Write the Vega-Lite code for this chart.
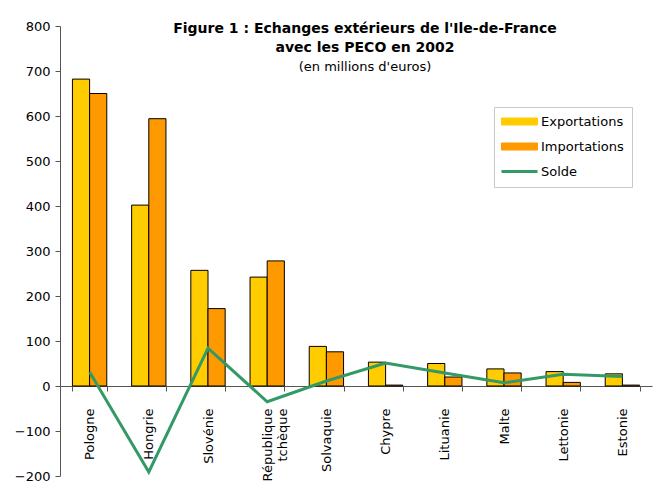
{
  "$schema": "https://vega.github.io/schema/vega-lite/v6.json",
  "width": 592,
  "height": 450,
  "autosize": {"type": "none"},
  "padding": {"left": 60, "top": 26, "right": 13, "bottom": 13},
  "background": "white",
  "config": {
    "font": "DejaVu Sans",
    "view": {"stroke": null},
    "axis": {"labelFont": "DejaVu Sans", "labelColor": "black", "labelFontSize": 13, "domainColor": "#555555", "tickColor": "#555555", "grid": false, "title": null},
    "legend": {
      "orient": "none",
      "legendX": 434,
      "legendY": 81,
      "padding": 8,
      "strokeColor": "#C8C8C8",
      "fillColor": "white",
      "symbolSize": 400,
      "labelFontSize": 13,
      "labelFont": "DejaVu Sans",
      "labelColor": "black",
      "labelOffset": 26,
      "rowPadding": 11
    }
  },
  "title": {
    "text": ["Figure 1 : Echanges extérieurs de l'Ile-de-France", "avec les PECO en 2002"],
    "subtitle": "(en millions d'euros)",
    "fontSize": 14,
    "fontWeight": "bold",
    "font": "DejaVu Sans",
    "color": "black",
    "subtitleFont": "DejaVu Sans",
    "subtitleFontSize": 13,
    "subtitleColor": "black",
    "lineHeight": 19,
    "subtitleLineHeight": 16,
    "subtitlePadding": 6,
    "offset": -54,
    "dx": 9,
    "anchor": "middle"
  },
  "data": {
    "values": [
      {"pays": "Pologne", "Exportations": 682, "Importations": 650, "Solde": 31},
      {"pays": "Hongrie", "Exportations": 402, "Importations": 594, "Solde": -191},
      {"pays": "Slovénie", "Exportations": 257, "Importations": 172, "Solde": 84},
      {"pays": "République tchèque", "Exportations": 242, "Importations": 278, "Solde": -35},
      {"pays": "Solvaquie", "Exportations": 88, "Importations": 76, "Solde": 11},
      {"pays": "Chypre", "Exportations": 53, "Importations": 2, "Solde": 51},
      {"pays": "Lituanie", "Exportations": 50, "Importations": 20, "Solde": 29},
      {"pays": "Malte", "Exportations": 38, "Importations": 29, "Solde": 7},
      {"pays": "Lettonie", "Exportations": 32, "Importations": 8, "Solde": 26},
      {"pays": "Estonie", "Exportations": 27, "Importations": 2, "Solde": 21}
    ]
  },
  "encoding": {
    "x": {
      "field": "pays",
      "type": "nominal",
      "sort": null,
      "scale": {"paddingInner": 0.42, "paddingOuter": 0.21},
      "axis": {
        "orient": "bottom",
        "offset": -90,
        "labelAngle": -90,
        "labelAlign": "right",
        "labelBaseline": "middle",
        "tickBand": "extent",
        "tickSize": 5,
        "labelPadding": 17,
        "labelLineHeight": 15,
        "labelExpr": "datum.value == 'République tchèque' ? ['République', 'tchèque'] : datum.label"
      }
    }
  },
  "layer": [
    {
      "transform": [{"fold": ["Exportations", "Importations"], "as": ["serie", "valeur"]}],
      "mark": {"type": "bar", "stroke": "black", "strokeWidth": 1},
      "encoding": {
        "y": {
          "field": "valeur",
          "type": "quantitative",
          "scale": {"domain": [-200, 800], "nice": false},
          "axis": {"values": [-200, -100, 0, 100, 200, 300, 400, 500, 600, 700, 800], "tickSize": 5, "labelPadding": 5}
        },
        "xOffset": {"field": "serie", "type": "nominal", "scale": {"paddingInner": 0, "paddingOuter": 0}},
        "color": {
          "field": "serie",
          "type": "nominal",
          "scale": {"domain": ["Exportations", "Importations", "Solde"], "range": ["#FFCC00", "#FF9900", "#339966"]},
          "legend": {
            "title": null,
            "symbolType": "M-0.7,-0.35H2.9V0.35H-0.7Z",
            "symbolStrokeColor": "black",
            "symbolStrokeWidth": 1,
            "encode": {
              "symbols": {
                "update": {
                  "shape": {"signal": "datum.value === 'Solde' ? 'M-0.7,0H2.9' : 'M-0.7,-0.35H2.9V0.35H-0.7Z'"},
                  "fill": {"signal": "datum.value === 'Solde' ? 'transparent' : (datum.value === 'Exportations' ? '#FFCC00' : '#FF9900')"},
                  "stroke": {"signal": "datum.value === 'Solde' ? '#339966' : 'black'"},
                  "strokeWidth": {"signal": "datum.value === 'Solde' ? 3 : 1"},
                  "opacity": {"value": 1}
                }
              }
            }
          }
        }
      }
    },
    {
      "mark": {"type": "line", "strokeWidth": 3},
      "encoding": {
        "y": {"field": "Solde", "type": "quantitative"},
        "color": {
          "datum": "Solde",
          "legend": {
            "title": null,
            "symbolType": "M-0.7,-0.35H2.9V0.35H-0.7Z",
            "symbolStrokeColor": "black",
            "symbolStrokeWidth": 1,
            "encode": {
              "symbols": {
                "update": {
                  "shape": {"signal": "datum.value === 'Solde' ? 'M-0.7,0H2.9' : 'M-0.7,-0.35H2.9V0.35H-0.7Z'"},
                  "fill": {"signal": "datum.value === 'Solde' ? 'transparent' : (datum.value === 'Exportations' ? '#FFCC00' : '#FF9900')"},
                  "stroke": {"signal": "datum.value === 'Solde' ? '#339966' : 'black'"},
                  "strokeWidth": {"signal": "datum.value === 'Solde' ? 3 : 1"},
                  "opacity": {"value": 1}
                }
              }
            }
          }
        }
      }
    }
  ]
}
